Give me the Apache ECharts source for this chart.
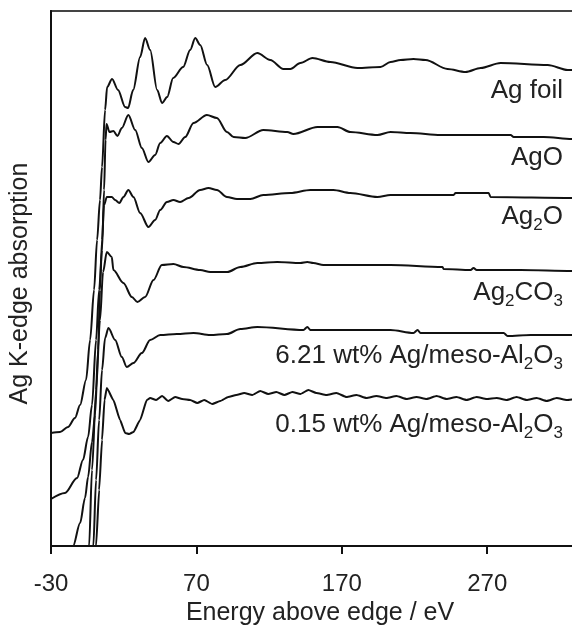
<!DOCTYPE html>
<html><head><meta charset="utf-8">
<script src="https://cdn.jsdelivr.net/npm/echarts@6/dist/echarts.min.js"></script>
<style>html,body{margin:0;padding:0;background:#fff}#c{width:572px;height:631px}</style>
</head><body><div id="c"></div>
<script>
// Energy above edge (eV) vs. offset Ag K-edge absorption (arbitrary units, stacked)
const xTicks = [-30, 70, 170, 270];

const agFoil = [[-30,1.13],[-23.8,1.14],[-18.3,1.19],[-13.5,1.28],[-10.0,1.41],[-5.9,1.66],[-3.1,2.06],[-0.4,2.56],[1.7,3.06],[3.7,3.46],[5.1,3.79],[7.2,4.36],[8.6,4.59],[12.0,4.67],[16.1,4.56],[21.0,4.39],[23.0,4.38],[26.5,4.56],[31.3,4.89],[34.7,5.08],[38.2,4.96],[43.0,4.56],[46.4,4.43],[49.9,4.49],[54.0,4.68],[60.9,4.79],[65.7,4.96],[69.2,5.08],[72.6,5.01],[77.4,4.81],[82.9,4.59],[89.8,4.66],[100.2,4.81],[111.9,4.93],[120.8,4.86],[129.8,4.77],[134.6,4.77],[141.5,4.83],[149.8,4.88],[162.1,4.84],[180.7,4.78],[196.6,4.79],[203.5,4.84],[210.4,4.86],[219.3,4.87],[227.6,4.86],[242.7,4.77],[255.1,4.74],[265.5,4.78],[279.2,4.83],[311.6,4.81],[325.4,4.76],[340.5,4.76]];

const agO = [[-30,0.47],[-20.4,0.53],[-12.1,0.68],[-8.0,0.86],[-4.5,1.09],[-1.8,1.41],[1.0,2.06],[3.1,2.56],[5.1,2.96],[6.5,3.56],[7.5,4.06],[8.2,4.22],[10.2,4.14],[12.9,4.15],[15.7,4.10],[18.7,4.18],[23.2,4.31],[27.9,4.16],[32.5,3.98],[37.0,3.84],[41.6,3.91],[45.1,4.03],[49.7,4.10],[54.2,4.04],[57.7,4.02],[62.3,4.09],[68.0,4.23],[77.2,4.31],[84.1,4.28],[91.0,4.14],[95.6,4.09],[103.6,4.08],[116.0,4.16],[132.5,4.14],[136.7,4.12],[153.2,4.19],[167.0,4.19],[175.9,4.14],[194.5,4.11],[203.5,4.14],[217.2,4.13],[237.9,4.11],[246.9,4.11],[286.1,4.11],[288.2,4.09],[308.8,4.09],[328.8,4.07],[340.5,4.07]];

const ag2O = [[-19.7,-0.19],[-14.8,0.00],[-10.0,0.23],[-6.6,0.48],[-4.5,0.69],[-1.8,1.04],[0.3,1.31],[2.4,1.96],[3.7,2.56],[5.1,3.06],[6.5,3.41],[8.4,3.49],[11.8,3.49],[14.1,3.46],[17.0,3.43],[19.8,3.49],[23.2,3.56],[26.7,3.49],[31.3,3.33],[37.0,3.19],[41.6,3.26],[45.1,3.36],[49.7,3.44],[54.2,3.46],[58.8,3.44],[64.6,3.48],[72.6,3.56],[78.3,3.58],[84.1,3.56],[91.0,3.49],[97.9,3.47],[107.1,3.47],[116.0,3.51],[134.6,3.53],[148.4,3.56],[164.2,3.56],[175.9,3.53],[194.5,3.49],[203.5,3.51],[246.9,3.51],[248.2,3.53],[271.0,3.53],[272.3,3.49],[328.8,3.48],[340.5,3.48]];

const ag2CO3 = [[-5.9,-0.29],[-3.8,0.00],[-1.8,0.76],[1.0,1.56],[3.7,2.26],[5.8,2.74],[8.4,2.94],[11.8,2.89],[12.9,2.76],[19.8,2.63],[25.6,2.49],[29.4,2.44],[34.7,2.49],[40.5,2.66],[46.2,2.81],[54.2,2.82],[61.1,2.79],[72.6,2.76],[79.5,2.74],[91.2,2.74],[100.2,2.79],[111.9,2.83],[125.6,2.84],[141.5,2.83],[146.3,2.84],[150.4,2.83],[157.3,2.81],[203.5,2.81],[239.3,2.79],[240.0,2.77],[258.6,2.76],[260.6,2.78],[262.7,2.76],[293.0,2.76],[328.8,2.75],[340.5,2.75]];

const ag621 = [[-2.5,-0.29],[-0.9,0.00],[1.0,0.66],[3.1,1.26],[5.1,1.76],[7.2,2.08],[9.5,2.18],[14.1,2.06],[18.7,1.89],[22.1,1.79],[26.7,1.83],[32.5,1.93],[38.2,2.06],[45.1,2.11],[56.6,2.12],[68.0,2.13],[79.5,2.11],[91.0,2.12],[100.2,2.17],[111.9,2.19],[143.6,2.16],[146.3,2.19],[148.4,2.16],[203.5,2.16],[219.3,2.13],[222.1,2.16],[224.1,2.13],[281.3,2.13],[284.0,2.10],[299.9,2.11],[328.8,2.11],[340.5,2.11]];

const ag015 = [[-0.4,-0.29],[1.0,0.00],[3.1,0.56],[5.1,1.06],[6.8,1.46],[8.4,1.58],[12.9,1.46],[17.5,1.26],[21.0,1.13],[23.7,1.12],[26.7,1.14],[31.3,1.26],[35.9,1.46],[38.2,1.48],[42.3,1.46],[46.4,1.50],[50.6,1.45],[55.4,1.49],[60.2,1.47],[65.7,1.46],[70.6,1.43],[75.4,1.46],[80.9,1.42],[86.4,1.45],[91.9,1.49],[97.4,1.51],[102.9,1.53],[108.4,1.51],[113.9,1.55],[119.4,1.52],[125.0,1.54],[130.5,1.51],[136.0,1.54],[141.5,1.52],[147.0,1.56],[152.5,1.53],[159.4,1.51],[166.3,1.53],[173.2,1.49],[180.1,1.51],[186.9,1.48],[193.8,1.50],[200.7,1.48],[207.6,1.50],[214.5,1.47],[221.4,1.49],[228.3,1.47],[235.2,1.50],[242.0,1.47],[248.9,1.49],[255.8,1.46],[262.7,1.49],[269.6,1.47],[276.5,1.48],[283.4,1.46],[290.2,1.49],[297.1,1.46],[304.0,1.48],[310.9,1.45],[317.8,1.48],[324.7,1.46],[331.6,1.47],[340.5,1.46]];

const seriesData = [agFoil, agO, ag2O, ag2CO3, ag621, ag015];
const seriesNames = ['Ag foil', 'AgO', 'Ag2O', 'Ag2CO3', '6.21 wt% Ag/meso-Al2O3', '0.15 wt% Ag/meso-Al2O3'];
// rich-text versions with subscripts
const labelRich = ['{m|Ag foil}', '{m|AgO}', '{m|Ag}{s|2}{m|O}', '{m|Ag}{s|2}{m|CO}{s|3}',
  '{m|6.21 wt% Ag/meso-Al}{s|2}{m|O}{s|3}', '{m|0.15 wt% Ag/meso-Al}{s|2}{m|O}{s|3}'];
const labelTop = [74, 141, 200, 276, 339, 408];

const FONT = '"Liberation Sans", Arial, Helvetica, sans-serif';
const chart = echarts.init(document.getElementById('c'), null, {renderer: 'canvas'});

const option = {
  animation: false,
  backgroundColor: '#fff',
  grid: {left: 51, top: 11, width: 538, height: 535, containLabel: false, outerBoundsMode: 'none',
    show: true, borderColor: '#444', borderWidth: 2, backgroundColor: 'transparent'},
  xAxis: {
    type: 'value', min: -30, max: 340,
    name: 'Energy above edge / eV', nameLocation: 'middle', nameGap: 55,
    nameTextStyle: {fontFamily: FONT, fontSize: 25, color: '#222'},
    axisLine: {show: true, onZero: false, lineStyle: {color: '#111', width: 2}},
    axisTick: {show: true, inside: false, length: 8, lineStyle: {color: '#111', width: 2}, customValues: xTicks},
    axisLabel: {fontFamily: FONT, fontSize: 24, color: '#222', margin: 26, customValues: xTicks},
    splitLine: {show: false}
  },
  yAxis: {
    type: 'value', min: 0, max: 5.35,
    name: 'Ag K-edge absorption', nameLocation: 'middle', nameGap: 18, nameRotate: 90,
    nameTextStyle: {fontFamily: FONT, fontSize: 25, color: '#222', padding: [0, 10, 0, 0]},
    axisLine: {show: true, onZero: false, lineStyle: {color: '#111', width: 2}},
    axisTick: {show: false}, axisLabel: {show: false}, splitLine: {show: false}
  },
  series: seriesData.map((d, i) => ({
    name: seriesNames[i], type: 'line', data: d, showSymbol: false, symbol: 'none',
    smooth: i === 5 ? 0.15 : 0.3, smoothMonotone: 'x', clip: true,
    lineStyle: {color: '#111', width: 2}
  })),
  graphic: labelRich.map((t, i) => ({
    type: 'text', x: 563, y: labelTop[i], silent: true,
    style: {
      text: t, align: 'right', verticalAlign: 'top', fill: '#222',
      rich: {
        m: {fontFamily: FONT, fontSize: 26, lineHeight: 34, fill: '#222'},
        s: {fontFamily: FONT, fontSize: 17, lineHeight: 17, verticalAlign: 'bottom', fill: '#222'}
      }
    }
  }))
};
chart.setOption(option);
</script>
</body></html>
